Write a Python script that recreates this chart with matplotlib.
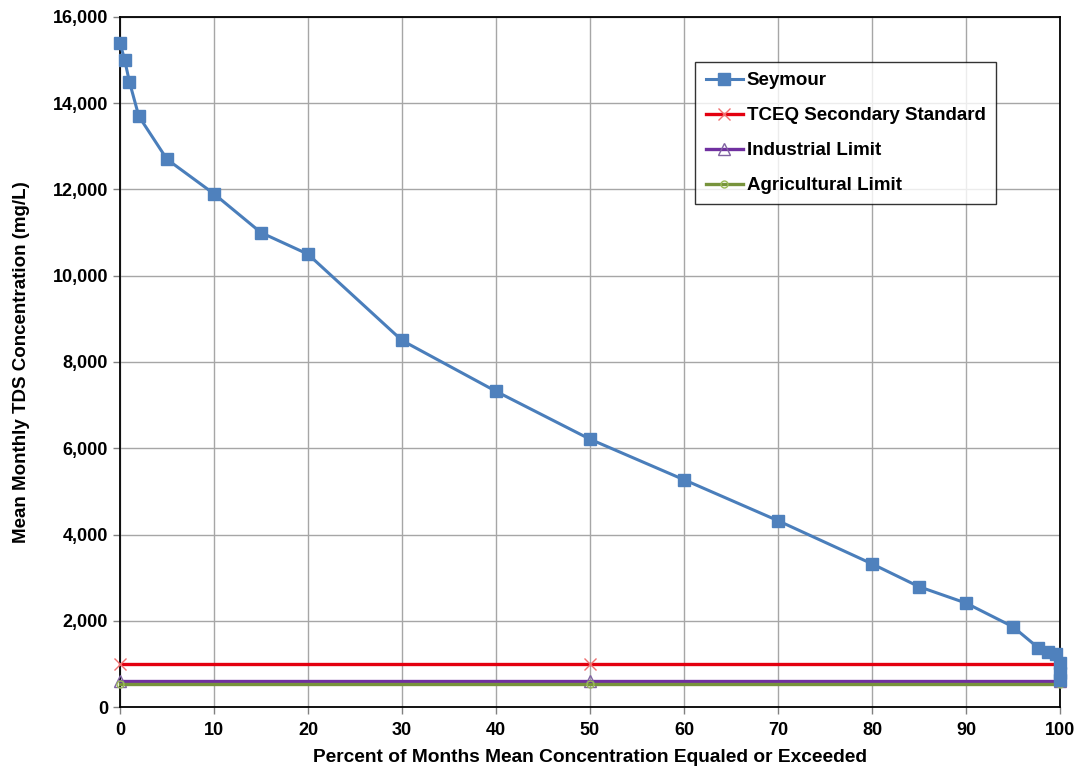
import matplotlib
matplotlib.use("Agg")
import matplotlib.pyplot as plt
from matplotlib.ticker import FuncFormatter, MultipleLocator

plt.rcParams['font.family'] = ['Liberation Sans', 'DejaVu Sans']
plt.rcParams['font.weight'] = 'bold'

# Seymour duration curve
pct_exceeded = [0, 0.5, 1, 2, 5, 10, 15, 20, 30, 40, 50, 60, 70, 80, 85, 90,
                95, 97.7, 98.7, 99.6, 100, 100, 100]
seymour_tds = [15400, 15000, 14500, 13700, 12700, 11900, 11000, 10500, 8500,
               7320, 6210, 5270, 4320, 3320, 2790, 2410, 1860, 1370, 1280,
               1230, 1020, 790, 630]

# Reference limits
limit_x = [0, 50, 100]
tceq_standard = [1000, 1000, 1000]
industrial_limit = [610, 610, 610]
agricultural_limit = [535, 535, 535]

fig = plt.figure(figsize=(10.77, 7.71), dpi=100)
ax = fig.add_axes([120 / 1077, 1 - 707 / 771, 940 / 1077, 690 / 771])

ax.plot(pct_exceeded, seymour_tds, color='#4A7EBB', lw=2.2, marker='s',
        markersize=8.5, markerfacecolor='#4F81BD', markeredgecolor='#4F81BD',
        label='Seymour', zorder=5, clip_on=False)
ax.plot(limit_x, tceq_standard, color='#E3000F', lw=2.4, marker='x',
        markersize=9, markeredgecolor='#F07070', markeredgewidth=1.0,
        label='TCEQ Secondary Standard', zorder=4, clip_on=False)
ax.plot(limit_x, industrial_limit, color='#7030A0', lw=2.4, marker='^',
        markersize=8, markerfacecolor='none', markeredgecolor='#8064A2',
        markeredgewidth=1.0, label='Industrial Limit', zorder=3, clip_on=False)
ax.plot(limit_x, agricultural_limit, color='#77933C', lw=2.4, marker='o',
        markersize=5, markerfacecolor='none', markeredgecolor='#9BBB59',
        markeredgewidth=1.0, label='Agricultural Limit', zorder=3, clip_on=False)

ax.set_xlim(0, 100)
ax.set_ylim(0, 16000)
ax.xaxis.set_major_locator(MultipleLocator(10))
ax.yaxis.set_major_locator(MultipleLocator(2000))
ax.yaxis.set_major_formatter(FuncFormatter(lambda v, p: f'{int(v):,}'))
ax.grid(True, color='#A6A6A6', lw=1.0)
ax.set_axisbelow(True)
for s in ax.spines.values():
    s.set_color('black')
    s.set_linewidth(1.3)
ax.tick_params(axis='both', labelsize=13, length=5, color='#808080', width=1)
ax.tick_params(axis='x', pad=6)
for lab in ax.get_xticklabels() + ax.get_yticklabels():
    lab.set_fontweight('bold')

ax.set_xlabel('Percent of Months Mean Concentration Equaled or Exceeded',
              fontsize=13.8, fontweight='bold', labelpad=7)
ax.set_ylabel('Mean Monthly TDS Concentration (mg/L)', fontsize=13.5,
              fontweight='bold', labelpad=16)

leg = ax.legend(loc='upper left', bbox_to_anchor=(0.612, 0.935),
                borderaxespad=0, frameon=True, fancybox=False,
                edgecolor='black', handlelength=2.0, handletextpad=0.2,
                borderpad=0.55, labelspacing=0.95,
                prop={'weight': 'bold', 'size': 13.5})
leg.get_frame().set_linewidth(1.0)

fig.savefig('out.png', dpi=100)
